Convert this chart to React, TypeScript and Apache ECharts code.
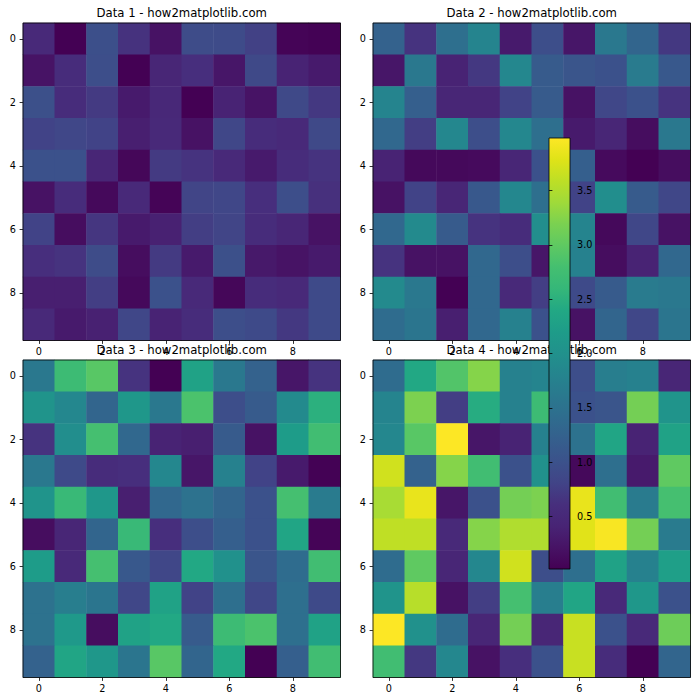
import React, { useEffect, useRef } from "react";
import * as echarts from "echarts";

const CATEGORIES = ["0", "1", "2", "3", "4", "5", "6", "7", "8", "9"];
const TITLES = [
  "Data 1 - how2matplotlib.com",
  "Data 2 - how2matplotlib.com",
  "Data 3 - how2matplotlib.com",
  "Data 4 - how2matplotlib.com",
];
const VMIN = 0.016;
const VMAX = 3.985;
const COLORBAR_TICKS = [0.5, 1.0, 1.5, 2.0, 2.5, 3.0, 3.5];

const VIRIDIS = [
  "#440154", "#471365", "#482475", "#472f7d", "#414487", "#3b528b", "#355f8d",
  "#2f6c8e", "#2a788e", "#25848e", "#21918c", "#1e9c89", "#22a884", "#35b779",
  "#44bf70", "#5ec962", "#7ad151", "#9fda3a", "#bddf26", "#dfe318", "#fde725",
];

const data1 = [
  [0.50, 0.02, 0.96, 0.64, 0.20, 0.92, 0.91, 0.78, 0.05, 0.03],
  [0.22, 0.55, 0.95, 0.02, 0.45, 0.60, 0.25, 0.88, 0.40, 0.30],
  [0.98, 0.55, 0.72, 0.30, 0.48, 0.02, 0.40, 0.22, 0.88, 0.70],
  [0.80, 0.85, 0.80, 0.35, 0.50, 0.20, 0.85, 0.55, 0.50, 0.88],
  [1.00, 1.00, 0.45, 0.08, 0.72, 0.65, 0.50, 0.30, 0.55, 0.65],
  [0.20, 0.55, 0.10, 0.50, 0.05, 0.82, 0.85, 0.60, 0.95, 0.62],
  [0.80, 0.15, 0.68, 0.30, 0.38, 0.75, 0.82, 0.55, 0.45, 0.20],
  [0.60, 0.65, 0.92, 0.15, 0.72, 0.30, 0.98, 0.28, 0.22, 0.30],
  [0.35, 0.35, 0.75, 0.10, 1.00, 0.50, 0.08, 0.55, 0.50, 0.90],
  [0.50, 0.30, 0.38, 0.85, 0.40, 0.55, 0.95, 0.90, 0.70, 0.90],
];

const data2 = [
  [1.25, 0.65, 1.45, 1.80, 0.30, 0.95, 0.25, 1.60, 1.30, 0.70],
  [0.25, 1.60, 0.40, 0.70, 1.85, 1.15, 1.05, 1.00, 1.65, 1.10],
  [1.80, 1.20, 0.45, 0.45, 0.80, 1.15, 0.20, 0.85, 1.00, 0.65],
  [1.35, 0.75, 1.85, 0.95, 1.85, 1.45, 0.30, 0.45, 0.15, 1.60],
  [0.40, 0.10, 0.10, 0.12, 0.45, 1.00, 1.20, 0.12, 0.02, 0.15],
  [0.20, 0.80, 0.45, 1.10, 1.85, 1.45, 0.80, 1.95, 1.15, 0.85],
  [1.35, 1.90, 1.15, 0.65, 0.55, 1.95, 1.80, 0.10, 0.85, 0.20],
  [0.65, 0.20, 0.20, 1.35, 0.95, 0.25, 1.75, 0.15, 0.40, 1.35],
  [1.90, 1.60, 0.02, 1.35, 0.50, 0.75, 0.90, 1.15, 1.65, 1.60],
  [1.40, 1.55, 0.35, 1.35, 1.75, 1.00, 0.20, 1.30, 0.85, 1.55],
];

const data3 = [
  [1.60, 2.70, 2.95, 0.65, 0.02, 2.30, 1.60, 1.25, 0.25, 0.65],
  [2.05, 1.85, 1.30, 2.10, 1.60, 2.85, 0.95, 1.15, 1.90, 2.50],
  [0.65, 1.95, 2.80, 1.35, 0.40, 0.35, 1.15, 0.20, 2.20, 2.75],
  [1.60, 0.90, 0.55, 0.60, 1.85, 0.25, 1.75, 0.80, 0.30, 0.03],
  [2.05, 2.65, 2.10, 0.35, 1.35, 1.50, 1.30, 1.00, 2.80, 1.65],
  [0.15, 0.45, 1.30, 2.65, 0.60, 0.95, 1.20, 1.00, 2.35, 0.05],
  [2.20, 0.50, 2.80, 1.10, 0.85, 2.40, 2.00, 1.05, 1.40, 2.75],
  [1.50, 1.70, 1.55, 0.85, 2.30, 0.80, 1.45, 0.85, 1.45, 0.90],
  [1.50, 2.15, 0.15, 2.30, 2.40, 1.15, 2.70, 2.85, 1.45, 2.30],
  [1.25, 2.35, 2.10, 1.55, 2.95, 1.30, 2.40, 0.02, 1.20, 2.75],
];

const data4 = [
  [1.40, 2.40, 2.90, 3.25, 1.75, 1.80, 0.95, 1.70, 1.75, 0.45],
  [1.80, 3.20, 0.75, 2.45, 1.75, 2.70, 1.00, 1.05, 3.15, 2.05],
  [1.85, 2.95, 3.98, 0.25, 0.40, 1.75, 1.50, 2.35, 0.40, 2.30],
  [3.70, 1.25, 3.25, 2.75, 1.00, 2.00, 0.10, 1.45, 0.30, 3.00],
  [3.45, 3.85, 0.25, 1.00, 3.15, 3.20, 3.85, 2.75, 1.65, 2.80],
  [3.60, 3.60, 0.50, 3.25, 3.50, 3.50, 3.80, 3.95, 3.15, 1.65],
  [1.40, 3.00, 0.45, 1.85, 3.70, 0.95, 1.45, 2.30, 1.75, 2.25],
  [2.05, 3.55, 0.20, 0.75, 2.80, 1.70, 2.35, 0.50, 2.10, 1.00],
  [3.98, 2.00, 1.40, 0.45, 3.15, 0.45, 3.65, 1.00, 0.50, 3.10],
  [2.75, 0.70, 1.85, 0.20, 0.60, 1.00, 3.65, 0.55, 0.02, 1.30],
];

const DATASETS = [data1, data2, data3, data4];

const GRIDS = [
  { left: 23, top: 23, width: 317.5, height: 317.5 },
  { left: 373, top: 23, width: 317.5, height: 317.5 },
  { left: 23, top: 360, width: 317.5, height: 317.5 },
  { left: 373, top: 360, width: 317.5, height: 317.5 },
];
const CBAR = { left: 549, top: 138, width: 21, height: 431 };

const TICK_FONT = 9.7;
const TITLE_FONT = 11.7;
const FONT = "'DejaVu Sans', sans-serif";

export default function App() {
  const ref = useRef<HTMLDivElement>(null);

  useEffect(() => {
    if (!ref.current) return;
    const chart = echarts.init(ref.current, null, { renderer: "svg" });

    const clamp = (v: number) => Math.min(VMAX, Math.max(VMIN, v));

    const grids: any[] = GRIDS.map((g) => ({
      ...g,
      show: true,
      backgroundColor: "transparent",
      borderColor: "#000",
      borderWidth: 0.8,
      z: 5,
    }));
    const cbarStops = VIRIDIS.slice()
      .reverse()
      .map((c, i, arr) => ({ offset: i / (arr.length - 1), color: c }));
    grids.push({
      ...CBAR,
      show: true,
      backgroundColor: new echarts.graphic.LinearGradient(0, 0, 0, 1, cbarStops),
      borderColor: "#000",
      borderWidth: 0.8,
      z: 10,
    });

    const xAxes: any[] = GRIDS.map((_, i) => ({
      type: "category",
      gridIndex: i,
      data: CATEGORIES,
      position: "bottom",
      axisLine: { show: false },
      axisTick: { show: true, alignWithLabel: true, interval: 1, length: 3.4, lineStyle: { color: "#000", width: 0.8 } },
      axisLabel: { interval: 1, margin: 6, fontSize: TICK_FONT, color: "#000", fontFamily: FONT },
      splitLine: { show: false },
    }));
    xAxes.push({ type: "value", gridIndex: 4, show: false, min: 0, max: 1 });

    const yAxes: any[] = GRIDS.map((_, i) => ({
      type: "category",
      gridIndex: i,
      data: CATEGORIES,
      inverse: true,
      position: "left",
      axisLine: { show: false },
      axisTick: { show: true, alignWithLabel: true, interval: 1, length: 3.4, lineStyle: { color: "#000", width: 0.8 } },
      axisLabel: { interval: 1, margin: 7, fontSize: TICK_FONT, color: "#000", fontFamily: FONT },
      splitLine: { show: false },
    }));
    yAxes.push({
      type: "value",
      gridIndex: 4,
      position: "right",
      min: VMIN,
      max: VMAX,
      z: 11,
      axisLine: { show: false },
      splitLine: { show: false },
      axisTick: { show: true, length: 3.4, customValues: COLORBAR_TICKS, lineStyle: { color: "#000", width: 0.8 } },
      axisLabel: {
        customValues: COLORBAR_TICKS,
        margin: 7,
        fontSize: TICK_FONT,
        color: "#000",
        fontFamily: FONT,
        formatter: (v: number) => v.toFixed(1),
      },
    });

    const series: any[] = DATASETS.map((d, i) => ({
      type: "heatmap",
      xAxisIndex: i,
      yAxisIndex: i,
      data: d.flatMap((row, r) => row.map((v, c) => [c, r, clamp(v)])),
      itemStyle: { borderWidth: 0 },
      emphasis: { disabled: true },
      progressive: 0,
    }));

    const titles = TITLES.map((t, i) => ({
      type: "text",
      z: 6,
      x: GRIDS[i].left + GRIDS[i].width / 2,
      y: GRIDS[i].top - 5.8 - 0.346 * TITLE_FONT,
      style: {
        text: t,
        fill: "#000",
        font: `${TITLE_FONT}px 'DejaVu Sans', sans-serif`,
        align: "center",
        verticalAlign: "middle",
      },
    }));

    chart.setOption({
      animation: false,
      backgroundColor: "#fff",
      textStyle: { fontFamily: FONT },
      grid: grids,
      xAxis: xAxes,
      yAxis: yAxes,
      visualMap: {
        type: "continuous",
        show: false,
        min: VMIN,
        max: VMAX,
        seriesIndex: [0, 1, 2, 3],
        inRange: { color: VIRIDIS },
      },
      graphic: titles,
      series,
    });

    return () => chart.dispose();
  }, []);

  return (
    <div
      ref={ref}
      style={{ position: "fixed", left: 0, top: 0, width: 700, height: 700 }}
    />
  );
}
